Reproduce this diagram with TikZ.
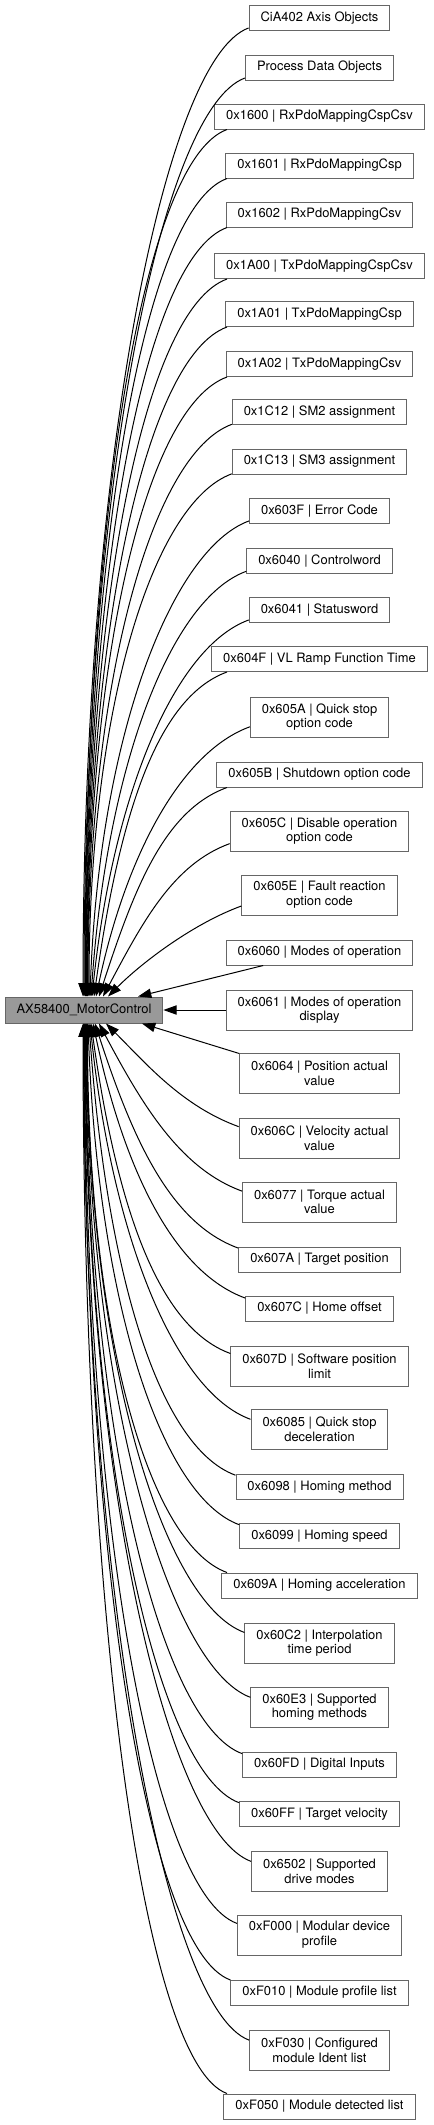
\documentclass[tikz,border=0pt]{standalone}
\usepackage{fontspec}
\setmainfont{TeX Gyre Heros}
\usetikzlibrary{arrows.meta,calc}
\definecolor{boxgray}{HTML}{666666}
\definecolor{maingray}{HTML}{999999}

\begin{document}
\begin{tikzpicture}[
            x=0.75pt, y=0.75pt,
            font=\fontsize{9.7}{11}\selectfont,
            objbox/.style={draw=boxgray, line width=0.75pt, fill=white, align=center, inner xsep=8.6pt, inner ysep=0pt, minimum height=18.75pt},
            objboxtwo/.style={objbox, minimum height=30pt},
            mainbox/.style={draw=boxgray, line width=0.75pt, fill=maingray, inner xsep=8.6pt, inner ysep=0pt, minimum height=19.5pt},
            linkarrow/.style={black, line width=0.75pt, -{Triangle[length=10pt, width=7pt]}}
        ]
            \useasboundingbox (0,0) rectangle (433,-2125);

            % group
            \node[mainbox] (main) at (84,-1010) {AX58400\_MotorControl};

            % objects above
            \node[objbox] (cia) at (319.5,-18) {CiA402 Axis Objects};
            \node[objbox] (pdo) at (319.5,-67.5) {Process Data Objects};
            \node[objbox] (o1600) at (319.5,-116.5) {0x1600 | RxPdoMappingCspCsv};
            \node[objbox] (o1601) at (319.5,-165.5) {0x1601 | RxPdoMappingCsp};
            \node[objbox] (o1602) at (319.5,-214.5) {0x1602 | RxPdoMappingCsv};
            \node[objbox] (o1A00) at (319.5,-266) {0x1A00 | TxPdoMappingCspCsv};
            \node[objbox] (o1A01) at (319.5,-314) {0x1A01 | TxPdoMappingCsp};
            \node[objbox] (o1A02) at (319.5,-364) {0x1A02 | TxPdoMappingCsv};
            \node[objbox] (o1C12) at (319.5,-412) {0x1C12 | SM2 assignment};
            \node[objbox] (o1C13) at (319.5,-461.5) {0x1C13 | SM3 assignment};
            \node[objbox] (o603F) at (319.5,-511) {0x603F | Error Code};
            \node[objbox] (o6040) at (319.5,-561) {0x6040 | Controlword};
            \node[objbox] (o6041) at (319.5,-610) {0x6041 | Statusword};
            \node[objbox] (o604F) at (319.5,-659) {0x604F | VL Ramp Function Time};
            \node[objboxtwo] (o605A) at (319.5,-717) {0x605A | Quick stop\\option code};
            \node[objbox] (o605B) at (319.5,-774.5) {0x605B | Shutdown option code};
            \node[objboxtwo] (o605C) at (319.5,-831) {0x605C | Disable operation\\option code};
            \node[objboxtwo] (o605E) at (319.5,-895) {0x605E | Fault reaction\\option code};
            \node[objbox] (o6060) at (319.5,-952.5) {0x6060 | Modes of operation};
            \node[objboxtwo] (o6061) at (319.5,-1010) {0x6061 | Modes of operation\\display};

            % objects below
            \node[objboxtwo] (o6064) at (319.5,-1073.5) {0x6064 | Position actual\\value};
            \node[objboxtwo] (o606C) at (319.5,-1138) {0x606C | Velocity actual\\value};
            \node[objboxtwo] (o6077) at (319.5,-1202) {0x6077 | Torque actual\\value};
            \node[objbox] (o607A) at (319.5,-1259.5) {0x607A | Target position};
            \node[objbox] (o607C) at (319.5,-1308.5) {0x607C | Home offset};
            \node[objboxtwo] (o607D) at (319.5,-1366) {0x607D | Software position\\limit};
            \node[objboxtwo] (o6085) at (319.5,-1429) {0x6085 | Quick stop\\deceleration};
            \node[objbox] (o6098) at (319.5,-1487) {0x6098 | Homing method};
            \node[objbox] (o6099) at (319.5,-1536) {0x6099 | Homing speed};
            \node[objbox] (o609A) at (319.5,-1585.5) {0x609A | Homing acceleration};
            \node[objboxtwo] (o60C2) at (319.5,-1643) {0x60C2 | Interpolation\\time period};
            \node[objboxtwo] (o60E3) at (319.5,-1707) {0x60E3 | Supported\\homing methods};
            \node[objbox] (o60FD) at (319.5,-1764.5) {0x60FD | Digital Inputs};
            \node[objbox] (o60FF) at (319.5,-1814) {0x60FF | Target velocity};
            \node[objboxtwo] (o6502) at (319.5,-1871) {0x6502 | Supported\\drive modes};
            \node[objboxtwo] (oF000) at (319.5,-1935) {0xF000 | Modular device\\profile};
            \node[objbox] (oF010) at (319.5,-1992.5) {0xF010 | Module profile list};
            \node[objboxtwo] (oF030) at (319.5,-2050) {0xF030 | Configured\\module Ident list};
            \node[objbox] (oF050) at (319.5,-2106.5) {0xF050 | Module detected list};

            % links into the top of the group
            \foreach \n/\dx/\a/\b/\th in {cia/-1/90/532/90, pdo/0/90/505/90, o1600/1/90/478/90, o1601/1.5/88/451/90,
                    o1602/2/88/424/90, o1A00/2.5/88/395/90, o1A01/3/86/369/90, o1A02/3.5/86/342/90,
                    o1C12/4/85/315/90, o1C13/5/84/288/90, o603F/6/82/261/88, o6040/7/80/233/86,
                    o6041/8/78/206/84, o604F/10/76/179/82, o605A/12/72/147/78, o605B/15/66/116/72,
                    o605C/19/60/85/62, o605E/24/50/50/45}{
                \draw[linkarrow] (\n.188) .. controls +(200:\a) and +(\th:\b) .. ($(main.north)+(\dx,0)$);
            }

            % links into the bottom of the group
            \foreach \n/\dx/\a/\b/\th in {o606C/22/60/57/45, o6077/15/66/92/62, o607A/11/72/123/72, o607C/9/76/150/78,
                    o607D/7/78/182/82, o6085/6/80/217/84, o6098/5/82/249/86, o6099/4/84/276/88,
                    o609A/3.5/85/303/90, o60C2/3/86/334/90, o60E3/2.5/86/370/90, o60FD/2/88/401/90,
                    o60FF/1.5/88/428/90, o6502/1/88/460/90, oF000/0.5/90/495/90, oF010/0/90/527/90,
                    oF030/-0.5/90/558/90, oF050/-1/90/589/90}{
                \draw[linkarrow] (\n.172) .. controls +(160:\a) and +(-\th:\b) .. ($(main.south)+(\dx,0)$);
            }

            % straight links
            \draw[linkarrow] (o6060.193) -- ($(main.north)+(54,0)$);
            \draw[linkarrow] (o6061.west) -- (main.east);
            \draw[linkarrow] (o6064.166) -- ($(main.south)+(58,0)$);

        \end{tikzpicture}
\end{document}
